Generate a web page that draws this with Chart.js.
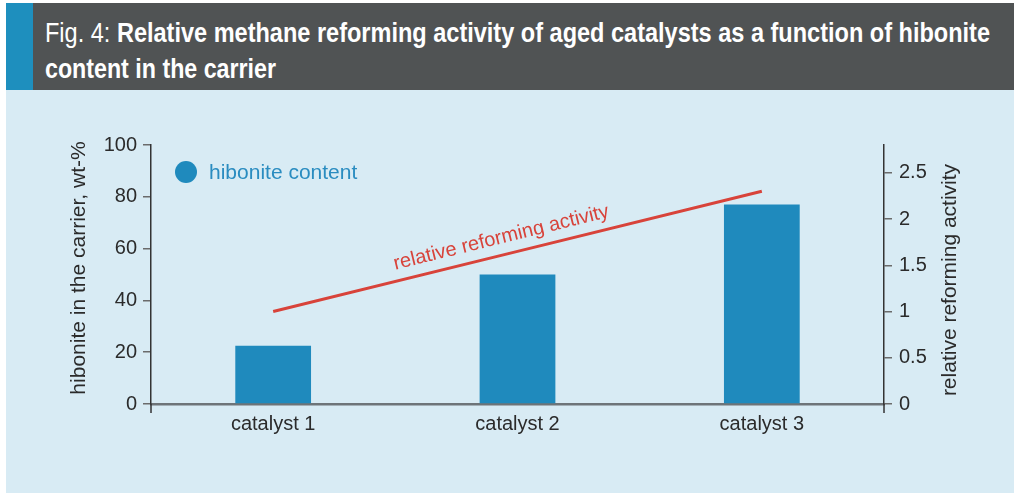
<!DOCTYPE html>
<html>
<head>
<meta charset="utf-8">
<script src="https://cdn.jsdelivr.net/npm/chart.js@4/dist/chart.umd.min.js"></script>
<style>
  html, body { margin: 0; padding: 0; background: #ffffff; }
  #fig { position: relative; width: 1017px; height: 493px; overflow: hidden; }
  #head { position: absolute; left: 6px; top: 3px; width: 1008px; height: 87px; background: #505354; }
  #stripe { position: absolute; left: 0; top: 0; width: 27px; height: 87px; background: #1e8fbe; }
  #head h1 {
    position: absolute; left: 39px; top: 12px; margin: 0;
    font: 700 27px/36px "Liberation Sans", Arial, sans-serif;
    color: #ffffff; white-space: nowrap;
  }
  #head h1 .ln { display: block; transform-origin: 0 50%; width: max-content; }
  #head h1 .lt { font-weight: 400; }
  #panel { position: absolute; left: 6px; top: 90px; width: 1008px; height: 403px; background: #d8ebf4; }
  #panel canvas { position: absolute; left: 0; top: 0; }
</style>
</head>
<body>
<div id="fig">
  <div id="head">
    <div id="stripe"></div>
    <h1>
      <span class="ln" data-w="945"><span class="lt">Fig. 4:</span> Relative methane reforming activity of aged catalysts as a function of hibonite</span>
      <span class="ln" data-w="231">content in the carrier</span>
    </h1>
  </div>
  <div id="panel">
    <canvas id="chart" width="1008" height="403"></canvas>
  </div>
</div>
<script>
"use strict";
// categories and values
var catalysts = ["catalyst 1", "catalyst 2", "catalyst 3"];
var hiboniteContent = [22.5, 50, 77];       // wt-%
var reformingActivity = [1.0, 1.65, 2.3];    // relative
var leftTicks = [0, 20, 40, 60, 80, 100];
var rightTicks = [0, 0.5, 1, 1.5, 2, 2.5];

var FONT = '"Liberation Sans", Arial, sans-serif';
var INK = "#2b2b2b";
var BLUE = "#1f8abd";
var RED = "#d8433a";

// squeeze the heading lines into a condensed look
document.querySelectorAll("#head .ln").forEach(function (el) {
  var w = el.getBoundingClientRect().width;
  el.style.transform = "scaleX(" + (+el.dataset.w / w) + ")";
});

var extras = {
  id: "extras",
  afterDraw: function (chart) {
    var ctx = chart.ctx, a = chart.chartArea;
    ctx.save();

    // vertical axes run a little below the baseline
    ctx.strokeStyle = "#333333";
    ctx.lineWidth = 1.5;
    ctx.beginPath();
    ctx.moveTo(a.left, a.bottom); ctx.lineTo(a.left, a.bottom + 9);
    ctx.moveTo(a.right, a.bottom); ctx.lineTo(a.right, a.bottom + 9);
    ctx.stroke();

    // axis titles, both reading bottom to top
    ctx.fillStyle = INK;
    ctx.font = "21px " + FONT;
    ctx.textAlign = "center";
    ctx.textBaseline = "middle";
    ctx.save();
    ctx.translate(73, 178);
    ctx.rotate(-Math.PI / 2);
    ctx.fillText("hibonite in the carrier, wt-%", 0, 0);
    ctx.restore();
    ctx.save();
    ctx.translate(944, 190);
    ctx.rotate(-Math.PI / 2);
    ctx.fillText("relative reforming activity", 0, 0);
    ctx.restore();

    // legend for the bars
    ctx.fillStyle = BLUE;
    ctx.beginPath();
    ctx.arc(180, 82, 11, 0, Math.PI * 2);
    ctx.fill();
    ctx.fillStyle = "#2a8cc0";
    ctx.textAlign = "left";
    ctx.fillText("hibonite content", 203, 83);

    // label riding along the activity line
    var pts = chart.getDatasetMeta(1).data;
    var p0 = pts[0], p1 = pts[pts.length - 1];
    var ang = Math.atan2(p1.y - p0.y, p1.x - p0.x);
    var t = 0.475;
    var cx = p0.x + (p1.x - p0.x) * t, cy = p0.y + (p1.y - p0.y) * t;
    ctx.translate(cx + Math.sin(ang) * 17, cy - Math.cos(ang) * 17);
    ctx.rotate(ang);
    ctx.fillStyle = RED;
    ctx.font = "20px " + FONT;
    ctx.textAlign = "center";
    ctx.fillText("relative reforming activity", 0, 0);

    ctx.restore();
  }
};

new Chart(document.getElementById("chart"), {
  data: {
    labels: catalysts,
    datasets: [
      {
        type: "bar",
        label: "hibonite content",
        data: hiboniteContent,
        backgroundColor: BLUE,
        barPercentage: 0.31,
        categoryPercentage: 1,
        yAxisID: "y",
        order: 2
      },
      {
        type: "line",
        label: "relative reforming activity",
        data: reformingActivity,
        borderColor: RED,
        borderWidth: 3,
        pointRadius: 0,
        tension: 0,
        fill: false,
        yAxisID: "y1",
        order: 1
      }
    ]
  },
  options: {
    responsive: false,
    animation: false,
    devicePixelRatio: 1,
    layout: { padding: { top: 55, left: 0, right: 0, bottom: 0 } },
    plugins: { legend: { display: false }, tooltip: { enabled: false } },
    scales: {
      x: {
        offset: true,
        grid: { display: false, drawTicks: false },
        border: { color: "#6e7478", width: 2.5 },
        ticks: { color: INK, font: { family: FONT, size: 20 }, padding: 8 },
        afterFit: function (s) { s.height = 89; }
      },
      y: {
        position: "left",
        min: 0,
        max: 100,
        afterBuildTicks: function (s) { s.ticks = leftTicks.map(function (v) { return { value: v }; }); },
        grid: { drawOnChartArea: false, color: "#6b6b6b", tickLength: 8, lineWidth: 1.5 },
        border: { color: "#333333", width: 1.5 },
        ticks: { color: INK, font: { family: FONT, size: 20 }, padding: 6 },
        afterFit: function (s) { s.width = 145; }
      },
      y1: {
        position: "right",
        min: 0,
        max: 2.8,
        afterBuildTicks: function (s) { s.ticks = rightTicks.map(function (v) { return { value: v }; }); },
        grid: { drawOnChartArea: false, color: "#6b6b6b", tickLength: 8, lineWidth: 1.5 },
        border: { color: "#333333", width: 1.5 },
        ticks: {
          color: INK,
          font: { family: FONT, size: 20 },
          padding: 7,
          callback: function (v) { return String(v); }
        },
        afterFit: function (s) { s.width = 130; }
      }
    }
  },
  plugins: [extras]
});
</script>
</body>
</html>
